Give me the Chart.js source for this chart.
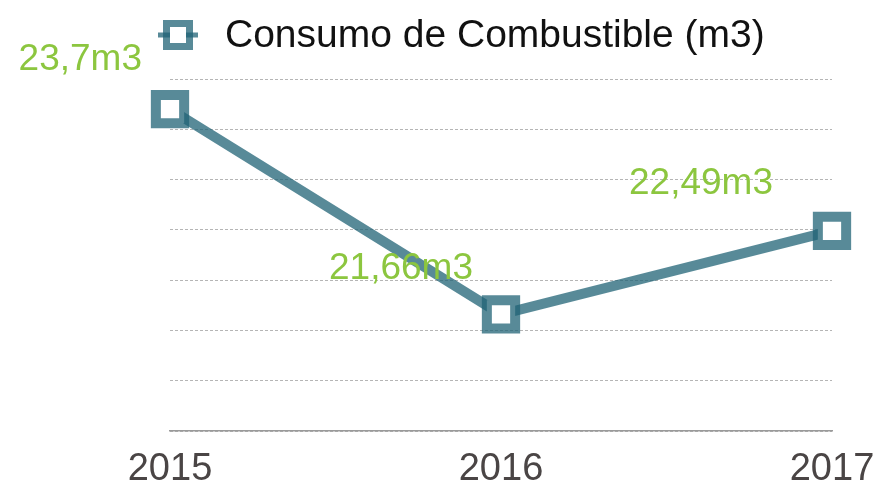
<!DOCTYPE html>
<html lang="es">
<head>
  <meta charset="UTF-8">
  <title>Consumo de Combustible</title>
  <script src="https://cdn.jsdelivr.net/npm/chart.js"></script>
  <style>
    html, body {
      margin: 0;
      padding: 0;
      background: #ffffff;
    }
    #wrap {
      width: 879px;
      height: 484px;
    }
  </style>
</head>
<body>
  <div id="wrap">
    <canvas id="fuelChart" width="879" height="484"></canvas>
  </div>
  <script>
    const years = ['2015', '2016', '2017'];
    const fuel = [23.7, 21.66, 22.49];
    const seriesName = 'Consumo de Combustible (m3)';

    const lineColor = 'rgba(32, 99, 118, 0.75)';
    const labelGreen = '#8cc63f';
    const fontFamily = '"Liberation Sans", Arial, sans-serif';

    // value labels next to each point, e.g. "23,7m3"
    const valueLabels = {
      id: 'valueLabels',
      afterDatasetsDraw(chart) {
        const ctx = chart.ctx;
        const pts = chart.getDatasetMeta(0).data;
        const dx = [-28, -28, -59];
        const dy = [-49, -46, -47];
        ctx.save();
        ctx.font = '37px ' + fontFamily;
        ctx.fillStyle = labelGreen;
        ctx.textAlign = 'right';
        ctx.textBaseline = 'middle';
        pts.forEach((p, i) => {
          const txt = String(fuel[i]).replace('.', ',') + 'm3';
          ctx.fillText(txt, p.x + dx[i], p.y + dy[i]);
        });
        ctx.restore();
      }
    };

    // legend drawn by hand: line stub with square marker, then series name
    const topLegend = {
      id: 'topLegend',
      afterDraw(chart) {
        const ctx = chart.ctx;
        const cy = 35;
        ctx.save();
        ctx.strokeStyle = lineColor;
        ctx.lineWidth = 5;
        ctx.beginPath();
        ctx.moveTo(158, cy);
        ctx.lineTo(198, cy);
        ctx.stroke();
        ctx.fillStyle = '#ffffff';
        ctx.fillRect(170, 27, 16, 16);
        ctx.lineWidth = 7;
        ctx.strokeRect(166.5, 23.5, 23, 23);
        ctx.fillStyle = '#111111';
        ctx.font = '39px ' + fontFamily;
        ctx.textAlign = 'left';
        ctx.textBaseline = 'middle';
        ctx.fillText(seriesName, 225, cy + 1);
        ctx.restore();
      }
    };

    new Chart(document.getElementById('fuelChart'), {
      type: 'line',
      data: {
        labels: years,
        datasets: [{
          label: seriesName,
          data: fuel,
          borderColor: lineColor,
          borderWidth: 10,
          pointStyle: 'rect',
          pointRadius: 20,
          pointHoverRadius: 20,
          pointBorderWidth: 10,
          pointBackgroundColor: '#ffffff',
          pointBorderColor: lineColor,
          tension: 0
        }]
      },
      options: {
        responsive: false,
        animation: false,
        events: [],
        layout: {
          padding: { left: 170, right: 47, top: 79, bottom: 0 }
        },
        plugins: {
          legend: { display: false },
          tooltip: { enabled: false }
        },
        scales: {
          x: {
            offset: false,
            grid: { display: false },
            border: { display: true, color: '#9a9a9a', width: 1.5 },
            ticks: {
              color: '#4a4545',
              padding: 8,
              font: { family: fontFamily, size: 38 }
            },
            afterFit(scale) {
              scale.height = 53;
              scale.paddingLeft = 0;
              scale.paddingRight = 0;
            }
          },
          y: {
            min: 20.5,
            max: 24,
            ticks: { display: false, stepSize: 0.5 },
            border: { display: false, dash: [3, 2] },
            grid: { color: '#b5b5b5', lineWidth: 1, drawTicks: false },
            afterFit(scale) { scale.width = 0; }
          }
        }
      },
      plugins: [valueLabels, topLegend]
    });
  </script>
</body>
</html>
